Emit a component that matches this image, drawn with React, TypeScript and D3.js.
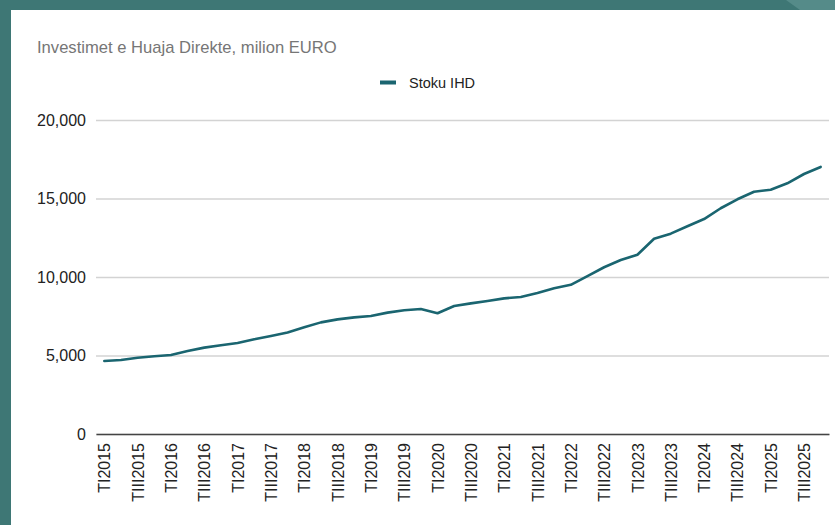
import React, { useEffect, useRef } from "react";
import * as d3 from "d3";

// quarterly stock of FDI, 2015 Q1 .. 2025 Q4 (million EUR)
const years = d3.range(2015, 2026);
const quarters = ["TI", "TII", "TIII", "TIV"];
const categories = years.flatMap((y) => quarters.map((q) => q + y));
const stokuIHD = [
  4650, 4710, 4860, 4950, 5030, 5290, 5500, 5650, 5800, 6030, 6240, 6470,
  6800, 7110, 7300, 7430, 7520, 7730, 7880, 7960, 7690, 8150, 8320, 8470,
  8640, 8730, 8980, 9280, 9500, 10060, 10620, 11080, 11420, 12440, 12760, 13230,
  13690, 14380, 14950, 15430, 15560, 15970, 16560, 17010,
];
const yTicks = [0, 5000, 10000, 15000, 20000];

const W = 835;
const H = 525;
const FONT = "'Liberation Sans', Arial, sans-serif";

export default function App() {
  const ref = useRef<SVGSVGElement>(null);

  useEffect(() => {
    const svg = d3.select(ref.current);
    svg.selectAll("*").remove();

    const margin = { top: 120, right: 6, bottom: 91, left: 96 };
    const innerW = W - margin.left - margin.right;
    const innerH = H - margin.top - margin.bottom;

    // frame
    svg.append("rect").attr("width", W).attr("height", H).attr("fill", "#3e7775");
    svg.append("polygon").attr("points", "786,0 835,0 835,10 800,10").attr("fill", "#558b89");
    svg.append("rect").attr("x", 11).attr("y", 10).attr("width", W - 11).attr("height", H - 10).attr("fill", "#ffffff");

    // title
    svg.append("text")
      .attr("x", 37).attr("y", 53)
      .attr("font-family", FONT).attr("font-size", 16.6).attr("fill", "#767676")
      .text("Investimet e Huaja Direkte, milion EURO");

    // legend
    svg.append("rect").attr("x", 380).attr("y", 80.5).attr("width", 16).attr("height", 4).attr("fill", "#1a6570");
    svg.append("text")
      .attr("x", 409).attr("y", 88)
      .attr("font-family", FONT).attr("font-size", 14.5).attr("fill", "#222")
      .text("Stoku IHD");

    const g = svg.append("g").attr("transform", `translate(${margin.left},${margin.top})`);

    const x = d3.scalePoint<string>().domain(categories).range([0, innerW]).padding(0.5);
    const y = d3.scaleLinear().domain([0, 20000]).range([innerH, 0]);

    // grid + y labels
    const yAxis = g.append("g").call(
      d3.axisLeft(y).tickValues(yTicks).tickSize(-innerW).tickPadding(10).tickFormat(d3.format(","))
    );
    yAxis.select(".domain").remove();
    yAxis.selectAll(".tick line").attr("stroke", "#d3d3d3").attr("stroke-width", 1.3);
    yAxis.selectAll(".tick text")
      .attr("font-family", FONT).attr("font-size", 16).attr("fill", "#222");

    // x axis
    const xAxis = g.append("g").attr("transform", `translate(0,${innerH})`).call(
      d3.axisBottom(x).tickSize(0).tickValues(categories.filter((_, i) => i % 2 === 0))
    );
    xAxis.select(".domain").attr("stroke", "#444").attr("stroke-width", 1.3);
    xAxis.selectAll(".tick text")
      .attr("font-family", FONT).attr("font-size", 16).attr("fill", "#222")
      .attr("transform", "rotate(-90)")
      .attr("text-anchor", "end")
      .attr("x", -9).attr("y", 0).attr("dy", "0.35em");

    // line
    const line = d3.line<number>()
      .x((_, i) => x(categories[i]) as number)
      .y((d) => y(d));
    g.append("path")
      .datum(stokuIHD)
      .attr("d", line)
      .attr("fill", "none")
      .attr("stroke", "#1a6570")
      .attr("stroke-width", 2.6)
      .attr("stroke-linejoin", "round")
      .attr("stroke-linecap", "round");
  }, []);

  return (
    <div style={{ position: "absolute", left: 0, top: 0 }}>
      <svg ref={ref} width={W} height={H} style={{ display: "block" }} />
    </div>
  );
}
